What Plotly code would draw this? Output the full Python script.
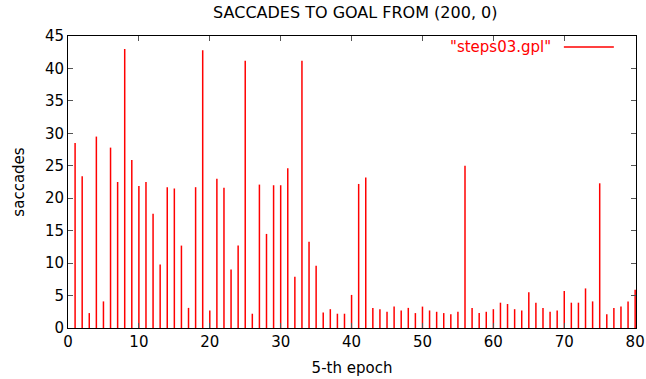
import plotly.graph_objects as go

epochs = list(range(1, 81))
saccades = [
    28.5, 23.4, 2.3, 29.5, 4.1, 27.8, 22.5, 43.0, 25.9, 21.9,
    22.5, 17.6, 9.8, 21.7, 21.5, 12.7, 3.1, 21.7, 42.8, 2.7,
    23.0, 21.6, 9.0, 12.7, 41.2, 2.2, 22.1, 14.5, 22.0, 22.0,
    24.6, 7.9, 41.2, 13.3, 9.6, 2.4, 2.9, 2.2, 2.2, 5.1,
    22.2, 23.2, 3.1, 2.9, 2.5, 3.3, 2.7, 3.1, 2.3, 3.3,
    2.7, 2.5, 2.3, 2.1, 2.5, 25.0, 3.1, 2.3, 2.5, 2.9,
    3.9, 3.7, 2.9, 2.7, 5.5, 3.9, 3.1, 2.5, 2.7, 5.7,
    3.9, 3.9, 6.1, 4.1, 22.3, 2.1, 3.1, 3.3, 4.1, 5.9,
]
series_name = '"steps03.gpl"'
title_text = "SACCADES TO GOAL FROM (200, 0)"
x_title = "5-th epoch"
y_title = "saccades"

# impulses: vertical segments from 0 to value
xs, ys = [], []
for e, s in zip(epochs, saccades):
    xs += [e, e, None]
    ys += [0, s, None]

FONT = "DejaVu Sans, Liberation Sans, sans-serif"

fig = go.Figure()
fig.add_trace(go.Scatter(x=xs, y=ys, mode="lines",
                         line=dict(color="#ff0000", width=1.5),
                         name=series_name, showlegend=False,
                         hoverinfo="skip"))

fig.update_layout(
    width=646, height=379,
    margin=dict(l=68, r=10, t=36, b=51, autoexpand=False),
    paper_bgcolor="white", plot_bgcolor="white",
    font=dict(family=FONT, size=14, color="black"),
    title=dict(text=title_text, x=0.55, xanchor="center", y=0.966, yanchor="middle",
               font=dict(family=FONT, size=16, color="black")),
    showlegend=False,
)
fig.update_xaxes(range=[0, 80.12], tickvals=list(range(0, 81, 10)),
                 showgrid=False, zeroline=False, showline=True, linecolor="black",
                 linewidth=1, mirror="allticks", ticks="inside", ticklen=5,
                 tickcolor="#555", automargin=False,
                 title=dict(text=x_title, standoff=12, font=dict(family=FONT, size=15)),
                 tickfont=dict(family=FONT, size=15))
fig.update_yaxes(range=[0, 45], tickvals=list(range(0, 46, 5)),
                 showgrid=False, zeroline=False, showline=True, linecolor="black",
                 linewidth=1, mirror="allticks", ticks="inside", ticklen=5,
                 tickcolor="#555", automargin=False,
                 title=dict(text=y_title, standoff=16, font=dict(family=FONT, size=15)),
                 tickfont=dict(family=FONT, size=15))

# gnuplot-style key: text then line sample, top right
fig.add_annotation(x=0.854, y=0.962, xref="paper", yref="paper",
                   text=series_name, showarrow=False, xanchor="right", yanchor="middle",
                   font=dict(family=FONT, size=15, color="#ff0000"))
fig.add_shape(type="line", xref="paper", yref="paper",
              x0=0.873, x1=0.961, y0=0.962, y1=0.962,
              line=dict(color="#ff0000", width=1.5))

fig.write_html("out.html")
